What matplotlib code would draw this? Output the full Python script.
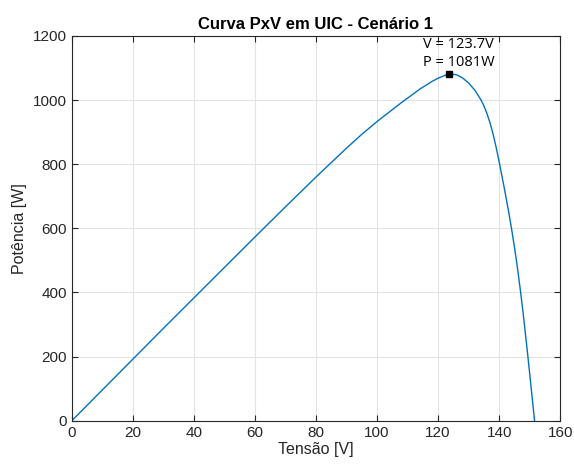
import matplotlib.pyplot as plt

plt.rcParams["font.family"] = ["Liberation Sans", "DejaVu Sans"]

tensao = [0, 10, 20, 30, 40, 50, 60, 70, 80, 90, 95, 100, 105, 108, 110, 112,
          114, 116, 118, 120, 122, 123.7, 126, 128, 130, 132, 134, 135, 136,
          137, 138, 139, 140, 141, 142, 143, 144, 145, 146, 147, 148, 149,
          150, 151, 151.6]
potencia = [0, 96, 192, 288, 383, 478, 573, 667, 760, 850, 893, 933, 970, 992,
            1006, 1020, 1034, 1046, 1058, 1068, 1076, 1081, 1079, 1069, 1053,
            1031, 1001, 982, 958, 929, 894, 853, 807, 759, 709, 657, 602, 542,
            476, 403, 323, 237, 147, 55, 0]

v_mpp = 123.7
p_mpp = 1081

x_ticks = [0, 20, 40, 60, 80, 100, 120, 140, 160]
y_ticks = [0, 200, 400, 600, 800, 1000, 1200]

fig = plt.figure(figsize=(5.74, 4.66), dpi=100)
ax = fig.add_axes([0.125, 0.097, 0.851, 0.826])

ax.plot(tensao, potencia, color="#0072BD", lw=1.0)
ax.plot([v_mpp], [p_mpp], marker="s", color="black", markersize=5)

ax.text(115, 1174, "V = 123.7V", fontsize=10.5, family=["Open Sans", "DejaVu Sans"],
        va="center", ha="left")
ax.text(115, 1117, "P = 1081W", fontsize=10.5, family=["Open Sans", "DejaVu Sans"],
        va="center", ha="left")

ax.set_xlim(0, 160)
ax.set_ylim(0, 1200)
ax.set_xticks(x_ticks)
ax.set_yticks(y_ticks)
ax.grid(True, color="#e3e3e3", lw=0.8)
ax.set_axisbelow(True)
ax.tick_params(direction="in", top=True, right=True, length=4, labelsize=11,
               color="#262626", labelcolor="#262626")
for s in ax.spines.values():
    s.set_color("#262626")
    s.set_linewidth(0.8)

ax.set_title("Curva PxV em UIC - Cenário 1", fontsize=12, fontweight="bold", pad=5)
ax.set_xlabel("Tensão [V]", fontsize=11.5, color="#262626", labelpad=2)
ax.set_ylabel("Potência [W]", fontsize=11.5, color="#262626", labelpad=4)

fig.savefig("out.png", dpi=100)
